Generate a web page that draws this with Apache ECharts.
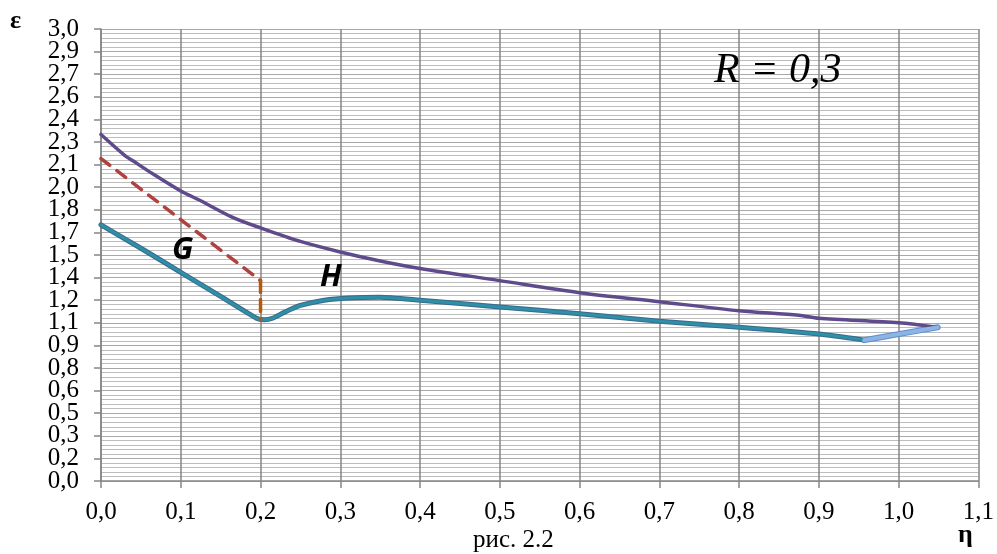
<!DOCTYPE html>
<html><head><meta charset="utf-8">
<script src="https://cdn.jsdelivr.net/npm/echarts@6/dist/echarts.min.js"></script>
<style>html,body{margin:0;padding:0;background:#fff}#c{width:997px;height:554px}</style>
</head><body><div id="c"></div>
<script>
// η values and ε values for each curve
var upperEta = [0, 0.03, 0.04, 0.06, 0.1, 0.125, 0.165, 0.2, 0.25, 0.3, 0.35, 0.4, 0.5, 0.6, 0.7, 0.8, 0.875, 0.9, 1.0, 1.049];
var upperEps = [2.30, 2.16, 2.125, 2.055, 1.925, 1.86, 1.75, 1.68, 1.59, 1.52, 1.46, 1.41, 1.33, 1.25, 1.19, 1.13, 1.10, 1.08, 1.05, 1.02];
var lowerEta = [0, 0.05, 0.1, 0.15, 0.195, 0.205, 0.215, 0.23, 0.25, 0.28, 0.31, 0.35, 0.4, 0.5, 0.6, 0.7, 0.8, 0.9, 0.957];
var lowerEps = [1.70, 1.545, 1.385, 1.225, 1.08, 1.07, 1.08, 1.12, 1.165, 1.20, 1.215, 1.22, 1.20, 1.155, 1.11, 1.06, 1.02, 0.975, 0.935];
var tailEta = [0.957, 1.0, 1.049];
var tailEps = [0.935, 0.975, 1.02];
var dashEta = [0, 0.2];
var dashEps = [2.14, 1.33];
var vertEta = [0.2, 0.2];
var vertEps = [1.33, 1.07];
var xTickLabels = ['0,0','0,1','0,2','0,3','0,4','0,5','0,6','0,7','0,8','0,9','1,0','1,1'];
var yTickLabels = ['0,0','0,2','0,3','0,5','0,6','0,8','0,9','1,1','1,2','1,4','1,5','1,7','1,8','2,0','2,1','2,3','2,4','2,6','2,7','2,9','3,0'];
var yStep = 0.15;

function pairs(a, b) { return a.map(function (v, i) { return [v, b[i]]; }); }
var evenVals = [], oddVals = [];
yTickLabels.forEach(function (l, i) { (i % 2 === 0 ? evenVals : oddVals).push(+(i * yStep).toFixed(2)); });
var serif = 'Liberation Serif';
var chart = echarts.init(document.getElementById('c'));
function lineS(data, color, width, z, type, smooth) {
  return { type: 'line', data: data, showSymbol: false, symbol: 'none', z: z, animation: false,
    smooth: smooth || false, yAxisIndex: 0,
    lineStyle: { color: color, width: width, type: type || 'solid', cap: 'round', join: 'round' } };
}
function txt(x, y, s, size, opts) {
  opts = opts || {};
  return { type: 'text', left: x, top: y, z: 100, style: { text: s, fontSize: size,
    fontFamily: opts.family || serif, fontStyle: opts.style || 'normal', fontWeight: opts.weight || 'normal', fill: '#000' } };
}
var yLabelFmt = function (v) { return yTickLabels[Math.round(v / yStep)]; };
var yLabelBase = { margin: 22, fontFamily: serif, fontSize: 25, color: '#000', formatter: yLabelFmt,
  showMinLabel: true, showMaxLabel: true, hideOverlap: false };
chart.setOption({
  animation: false,
  grid: { left: 101, right: 16, top: 29, bottom: 73 },
  xAxis: {
    type: 'value', min: 0, max: 1.1, interval: 0.1,
    axisLine: { show: true, lineStyle: { color: '#868686', width: 1.5 } },
    axisTick: { show: true, length: 7, lineStyle: { color: '#868686', width: 1.5 } },
    axisLabel: { margin: 19, fontFamily: serif, fontSize: 25, color: '#000', showMinLabel: true, showMaxLabel: true, hideOverlap: false,
      formatter: function (v) { return xTickLabels[Math.round(v * 10)]; } },
    splitLine: { show: true, lineStyle: { color: '#868686', width: 1.5 } }
  },
  yAxis: [{
    type: 'value', min: 0, max: 3, interval: yStep, position: 'left',
    axisLine: { show: true, lineStyle: { color: '#868686', width: 1.5 } },
    axisTick: { show: true, length: 7, lineStyle: { color: '#868686', width: 1.5 } },
    axisLabel: Object.assign({}, yLabelBase, { customValues: evenVals }),
    splitLine: { show: true, lineStyle: { color: '#a8a8a8', width: 1.2 } },
    minorTick: { show: false, splitNumber: 5 },
    minorSplitLine: { show: true, lineStyle: { color: '#bdbdbd', width: 1.2 } }
  }, {
    type: 'value', min: 0, max: 3, interval: yStep, position: 'left', offset: 0,
    axisLine: { show: false }, axisTick: { show: false }, splitLine: { show: false },
    axisLabel: Object.assign({}, yLabelBase, { customValues: oddVals })
  }],
  series: [
    lineS(pairs(upperEta, upperEps), '#5F4B8B', 3.5, 5, null, 0.3),
    lineS(pairs(lowerEta, lowerEps), '#3A6A8C', 5, 4, null, 0.2),
    lineS(pairs(lowerEta, lowerEps), '#2F8EA8', 3, 5, null, 0.2),
    lineS(pairs(tailEta, tailEps), '#5A8FD0', 6, 4, null, 0.3),
    lineS(pairs(tailEta, tailEps), '#8DB4E2', 4, 5, null, 0.3),
    lineS(pairs(dashEta, dashEps), '#B0413E', 3.5, 6, [11, 9]),
    lineS(pairs(vertEta, vertEps), '#B35A0E', 3.5, 6, [12, 7])
  ],
  graphic: [
    txt(10, 8, 'ε', 26, { weight: 'bold' }),
    txt(958, 522, 'η', 26, { weight: 'bold' }),
    txt(473, 528, 'рис. 2.2', 25),
    txt(714, 50, 'R = 0,3', 42, { style: 'italic' }),
    txt(172, 235, 'G', 31, { family: 'Open Sans', style: 'italic', weight: 'bold' }),
    txt(320, 262, 'H', 31, { family: 'Open Sans', style: 'italic', weight: 'bold' })
  ]
});
</script></body></html>
